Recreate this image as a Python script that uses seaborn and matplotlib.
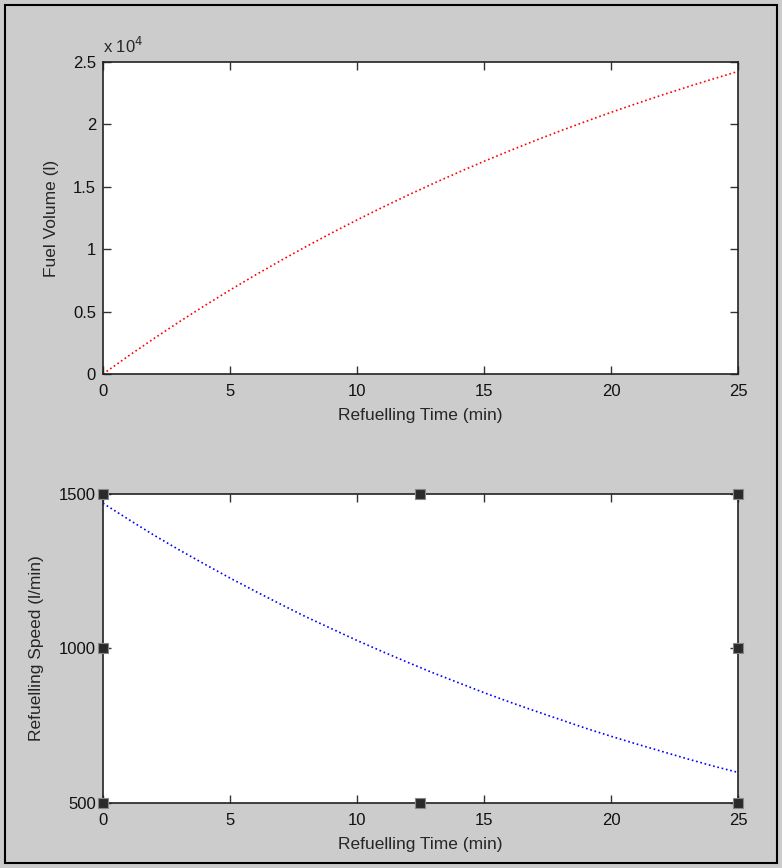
import numpy as np
import pandas as pd
import matplotlib
matplotlib.use("Agg")
import matplotlib.pyplot as plt
import seaborn as sns
from matplotlib.ticker import FuncFormatter
from matplotlib.patches import Rectangle

# values at each minute
time_min = list(range(0, 26))
fuel_volume = [0, 1444, 2836, 4180, 5476, 6726, 7932, 9096, 10218, 11301,
               12346, 13354, 14326, 15264, 16169, 17042, 17884, 18696, 19480,
               20236, 20966, 21670, 22349, 23004, 23636, 24245]
refuel_speed = [1470, 1418, 1367, 1319, 1273, 1228, 1185, 1143, 1102, 1064,
                1026, 990, 955, 921, 889, 857, 827, 798, 770, 742,
                716, 691, 667, 643, 620, 599]
x_ticks = [0, 5, 10, 15, 20, 25]
vol_ticks = [0, 5000, 10000, 15000, 20000, 25000]
speed_ticks = [500, 1000, 1500]

sns.set_theme(style="ticks")
plt.rcParams['font.family'] = ['Liberation Sans', 'DejaVu Sans']
plt.rcParams['font.size'] = 12
plt.rcParams['xtick.direction'] = 'in'
plt.rcParams['ytick.direction'] = 'in'

df = pd.DataFrame({"t": time_min, "vol": fuel_volume, "speed": refuel_speed})

bg = '#cccccc'
fig = plt.figure(figsize=(7.82, 8.68), dpi=100, facecolor=bg)
ax1 = fig.add_axes([0.1317, 0.5691, 0.812, 0.3594])
ax2 = fig.add_axes([0.1317, 0.0749, 0.812, 0.3560])

sns.lineplot(data=df, x="t", y="vol", ax=ax1, color='#ff0000',
             linestyle=':', linewidth=1.2)
sns.lineplot(data=df, x="t", y="speed", ax=ax2, color='#0000ff',
             linestyle=':', linewidth=1.2)

for ax in (ax1, ax2):
    ax.set_facecolor('white')
    ax.set_xlim(0, 25)
    ax.set_xticks(x_ticks)
    ax.set_xlabel("Refuelling Time (min)", fontsize=12.5, labelpad=7)
    ax.tick_params(axis='both', which='both', top=True, right=True,
                   length=6, width=1, color='#333333', labelsize=12,
                   labelcolor='#111111')
    ax.tick_params(axis='x', pad=7)
    ax.tick_params(axis='y', pad=5)
    for s in ax.spines.values():
        s.set_visible(True)
        s.set_color('#222222')
        s.set_linewidth(1.2)
    ax.grid(False)

ax1.set_ylim(0, 25000)
ax1.set_yticks(vol_ticks)
ax1.yaxis.set_major_formatter(FuncFormatter(lambda v, p: f"{v / 1e4:g}"))
ax1.set_ylabel("Fuel Volume (l)", fontsize=12.5, labelpad=10)
ax1.text(0.0, 1.02, r"x 10$^4$", transform=ax1.transAxes, fontsize=12,
         ha='left', va='bottom')

ax2.set_ylim(500, 1500)
ax2.set_yticks(speed_ticks)
ax2.set_ylabel("Refuelling Speed (l/min)", fontsize=12.5, labelpad=11)

# selection handles around the lower axes
for hx, hy in [(0, 0), (0.5, 0), (1, 0), (0, 0.5), (1, 0.5), (0, 1), (0.5, 1), (1, 1)]:
    ax2.plot(hx, hy, marker='s', markersize=6.5, color='#2a2a2a',
             markeredgecolor='#888888', markeredgewidth=0.8,
             transform=ax2.transAxes, clip_on=False, zorder=10)

fig.patches.append(Rectangle((5 / 782, 5 / 868), 772 / 782, 858 / 868,
                             transform=fig.transFigure, fill=False,
                             edgecolor='black', linewidth=1.5))

fig.savefig("out.png", dpi=100, facecolor=bg)
